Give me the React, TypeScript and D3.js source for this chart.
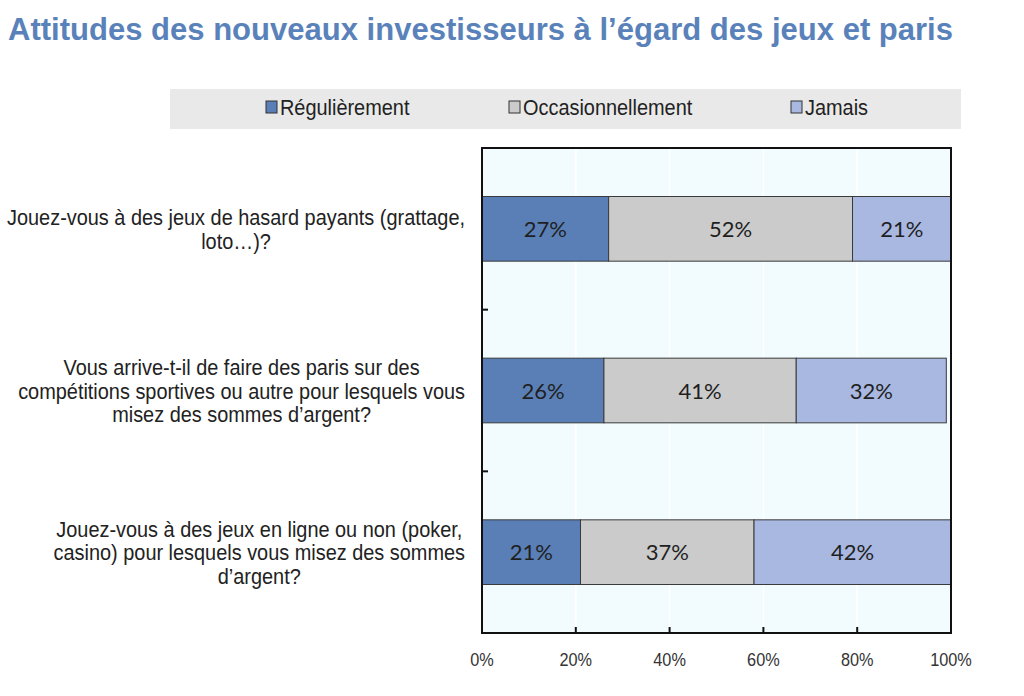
import React, { useEffect, useRef } from "react";
import * as d3 from "d3";

const title = "Attitudes des nouveaux investisseurs à l’égard des jeux et paris";
const categories = [
  ["Jouez-vous à des jeux de hasard payants (grattage,", "loto…)?"],
  ["Vous arrive-t-il  de faire des paris sur des", "compétitions sportives ou autre pour lesquels vous", "misez des sommes d’argent?"],
  ["Jouez-vous à des jeux en ligne ou non (poker,", "casino) pour lesquels vous misez des sommes", "d’argent?"],
];
const seriesNames = ["Régulièrement", "Occasionnellement", "Jamais"];
const regulierement = [27, 26, 21];
const occasionnellement = [52, 41, 37];
const jamais = [21, 32, 42];
const xTicks = [0, 20, 40, 60, 80, 100];
const colors = ["#5a7fb6", "#cbcbcb", "#a9b8e1"];

const W = 1024, H = 696;
const plot = { left: 482, right: 951, top: 148, bottom: 633 };
const sans = "'Liberation Sans', Arial, sans-serif";
const SX = 0.905;

export default function App() {
  const ref = useRef<SVGSVGElement>(null);
  useEffect(() => {
    const svg = d3.select(ref.current);
    svg.selectAll("*").remove();

    const ntext = (parent: any, x: number, y: number, s: string, size: number, anchor = "start", fill = "#222") =>
      parent.append("text").attr("transform", `translate(${x},${y}) scale(${SX},1)`)
        .attr("text-anchor", anchor).attr("font-family", sans).attr("font-size", size)
        .attr("fill", fill).text(s);

    svg.append("rect").attr("width", W).attr("height", H).attr("fill", "#ffffff");

    svg.append("text").attr("x", 8).attr("y", 40).text(title)
      .attr("font-family", sans).attr("font-weight", "bold")
      .attr("font-size", 32).attr("fill", "#5a82ba")
      .attr("textLength", 945).attr("lengthAdjust", "spacingAndGlyphs");

    // legend
    svg.append("rect").attr("x", 170).attr("y", 89).attr("width", 791).attr("height", 40).attr("fill", "#e9e9e9");
    const legendX = [266, 509, 791];
    seriesNames.forEach((n, i) => {
      svg.append("rect").attr("x", legendX[i]).attr("y", 101).attr("width", 11).attr("height", 12)
        .attr("fill", colors[i]).attr("stroke", "#333").attr("stroke-width", 1);
      ntext(svg, legendX[i] + 14, 115, n, 22);
    });

    const x = d3.scaleLinear().domain([0, 100]).range([plot.left, plot.right]);
    const y = d3.scaleBand().domain(d3.range(categories.length).map(String))
      .range([plot.top, plot.bottom]).paddingInner(0.6).paddingOuter(0.3);
    const yOuter = d3.scaleBand().domain(d3.range(categories.length).map(String))
      .range([plot.top, plot.bottom]);

    svg.append("rect").attr("x", plot.left).attr("y", plot.top)
      .attr("width", plot.right - plot.left).attr("height", plot.bottom - plot.top).attr("fill", "#f2fcfe");

    // grid
    svg.append("g").selectAll("line").data(xTicks.slice(1, -1)).join("line")
      .attr("x1", d => x(d)).attr("x2", d => x(d)).attr("y1", plot.top).attr("y2", plot.bottom)
      .attr("stroke", "#ffffff").attr("stroke-width", 1.5);

    const series = [regulierement, occasionnellement, jamais];
    const data = categories.map((c, i) => ({ i, vals: series.map(s => s[i]) }));
    data.forEach(d => {
      let acc = 0;
      d.vals.forEach((v, k) => {
        const x0 = x(acc), x1 = x(acc + v);
        const yy = y(String(d.i))!;
        svg.append("rect").attr("x", x0).attr("y", yy).attr("width", x1 - x0).attr("height", y.bandwidth())
          .attr("fill", colors[k]).attr("stroke", "#3a3a3a").attr("stroke-width", 1);
        svg.append("text").attr("x", (x0 + x1) / 2).attr("y", yy + y.bandwidth() / 2 + 8)
          .attr("text-anchor", "middle").text(v + "%")
          .attr("font-family", "Lato, 'Open Sans', sans-serif").attr("font-size", 22).attr("fill", "#1f1f1f");
        acc += v;
      });

      // category label: lines centered, block right-aligned at 465
      const g = svg.append("g");
      const lines = categories[d.i];
      const lh = 23.5;
      const cy = y(String(d.i))! + y.bandwidth() / 2;
      const texts = lines.map((l, j) => ntext(g, 0, cy - ((lines.length - 1) * lh) / 2 + j * lh + 8, l, 22, "middle"));
      const maxW = (d3.max(texts, (t: any) => (t.node() as SVGTextElement).getComputedTextLength()) || 0) * SX;
      texts.forEach((t: any, j: number) =>
        t.attr("transform", `translate(${465 - maxW / 2},${cy - ((lines.length - 1) * lh) / 2 + j * lh + 8}) scale(${SX},1)`));
    });

    // axes frame
    svg.append("rect").attr("x", plot.left).attr("y", plot.top)
      .attr("width", plot.right - plot.left).attr("height", plot.bottom - plot.top)
      .attr("fill", "none").attr("stroke", "#111").attr("stroke-width", 2);

    // y ticks at category boundaries
    svg.append("g").selectAll("line").data(d3.range(1, categories.length)).join("line")
      .attr("x1", plot.left).attr("x2", plot.left + 6)
      .attr("y1", i => yOuter(String(i))!).attr("y2", i => yOuter(String(i))!)
      .attr("stroke", "#111").attr("stroke-width", 2);

    // x ticks
    svg.append("g").selectAll("line").data(xTicks.slice(1, -1)).join("line")
      .attr("x1", d => x(d)).attr("x2", d => x(d)).attr("y1", plot.bottom).attr("y2", plot.bottom - 6)
      .attr("stroke", "#111").attr("stroke-width", 2);
    const xl = svg.append("g");
    xTicks.forEach(d => ntext(xl, x(d), plot.bottom + 33, d + "%", 18, "middle", "#333"));
  }, []);

  return <svg ref={ref} width={W} height={H} style={{ display: "block", position: "absolute", left: 0, top: 0 }} />;
}
